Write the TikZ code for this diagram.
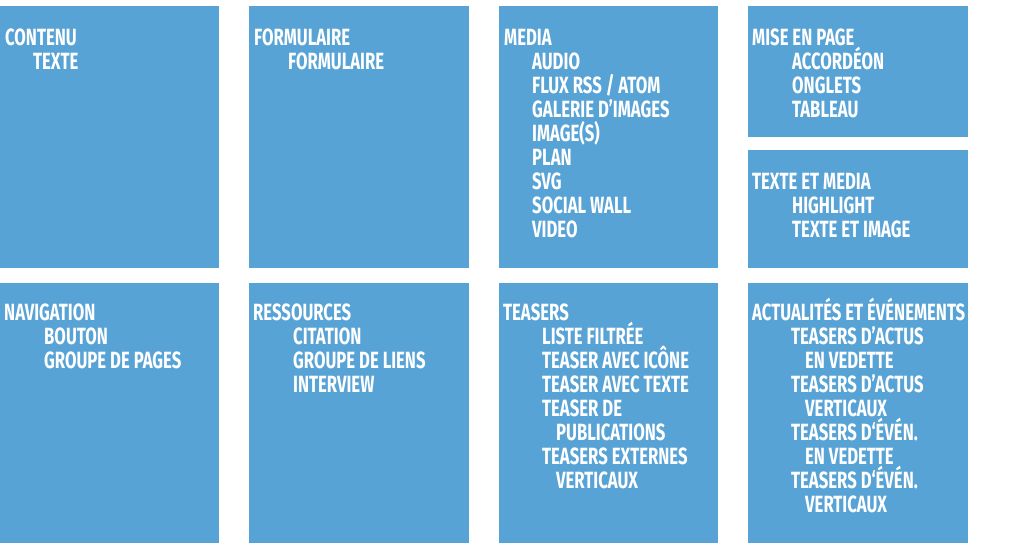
\documentclass[tikz,border=0pt]{standalone}
\usepackage{fontspec}
\newfontfamily\tilefont{Fira Sans}[FakeStretch=0.71]
\definecolor{tileblue}{RGB}{88,163,214}

\tikzset{
  tile/.style={fill=tileblue, draw=none},
  entry/.style={anchor=base west, inner sep=0pt, text=white,
    font=\tilefont\bfseries\fontsize{23.5}{24}\selectfont}
}

\begin{document}
\begin{tikzpicture}[x=1pt, y=-1pt]
  \useasboundingbox (0,0) rectangle (1024,549);

  % top row
  \fill[tile] (0,6) rectangle (219,268);
  \fill[tile] (249,6) rectangle (469,268);
  \fill[tile] (499,6) rectangle (718,268);
  \fill[tile] (748,6) rectangle (968,137);
  \fill[tile] (748,150) rectangle (968,268);
  % bottom row
  \fill[tile] (0,283) rectangle (219,543);
  \fill[tile] (249,283) rectangle (469,543);
  \fill[tile] (499,283) rectangle (718,543);
  \fill[tile] (748,283) rectangle (968,543);

  \foreach \dx/\lbl [count=\i from 0] in {0/CONTENU, 28/TEXTE}
    \node[entry] (contenu-\i) at (5+\dx, 45+24*\i) {\lbl};
  \foreach \dx/\lbl [count=\i from 0] in {0/FORMULAIRE, 34/FORMULAIRE}
    \node[entry] (form-\i) at (254+\dx, 45+24*\i) {\lbl};
  \foreach \dx/\lbl [count=\i from 0] in {0/MEDIA, 28/AUDIO, 28/{FLUX RSS / ATOM},
      28/GALERIE D’IMAGES, 28/IMAGE(S), 28/PLAN, 28/SVG, 28/SOCIAL WALL, 28/VIDEO}
    \node[entry] (media-\i) at (504+\dx, 45+24*\i) {\lbl};
  \foreach \dx/\lbl [count=\i from 0] in {0/MISE EN PAGE, 40/ACCORDÉON,
      40/ONGLETS, 40/TABLEAU}
    \node[entry] (mise-\i) at (752+\dx, 45+24*\i) {\lbl};
  \foreach \dx/\lbl [count=\i from 0] in {0/TEXTE ET MEDIA, 40/HIGHLIGHT,
      40/TEXTE ET IMAGE}
    \node[entry] (txtmedia-\i) at (752+\dx, 189+24*\i) {\lbl};

  \foreach \dx/\lbl [count=\i from 0] in {0/NAVIGATION, 40/BOUTON,
      40/GROUPE DE PAGES}
    \node[entry] (nav-\i) at (4+\dx, 320+24*\i) {\lbl};
  \foreach \dx/\lbl [count=\i from 0] in {0/RESSOURCES, 40/CITATION,
      40/GROUPE DE LIENS, 40/INTERVIEW}
    \node[entry] (res-\i) at (253+\dx, 320+24*\i) {\lbl};
  \foreach \dx/\lbl [count=\i from 0] in {0/TEASERS, 39/LISTE FILTRÉE,
      39/TEASER AVEC ICÔNE, 39/TEASER AVEC TEXTE, 39/TEASER DE,
      53/PUBLICATIONS, 39/TEASERS EXTERNES, 53/VERTICAUX}
    \node[entry] (teasers-\i) at (503+\dx, 320+24*\i) {\lbl};
  \foreach \dx/\lbl [count=\i from 0] in {0/ACTUALITÉS ET ÉVÉNEMENTS,
      39/TEASERS D’ACTUS, 53/EN VEDETTE, 39/TEASERS D’ACTUS, 53/VERTICAUX,
      39/TEASERS D‘ÉVÉN., 53/EN VEDETTE, 39/TEASERS D‘ÉVÉN., 53/VERTICAUX}
    \node[entry] (actus-\i) at (752+\dx, 320+24*\i) {\lbl};
\end{tikzpicture}
\end{document}
